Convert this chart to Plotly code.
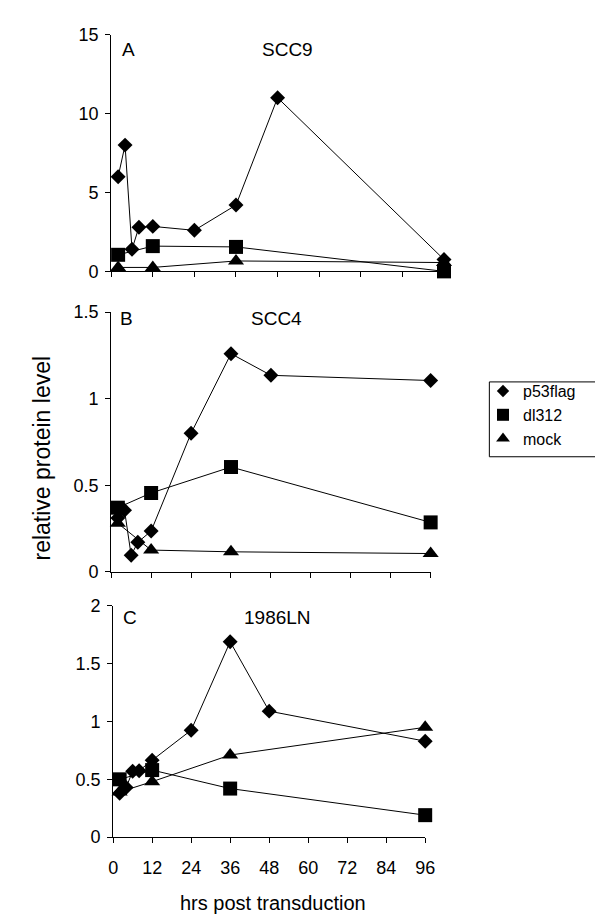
import plotly.graph_objects as go

# ---------------- data ----------------
hours_p53 = [2, 4, 6, 8, 12, 24, 36, 48, 96]
hours_ctrl = [2, 12, 36, 96]

A_p53flag = [6.0, 8.0, 1.4, 2.8, 2.85, 2.6, 4.2, 11.0, 0.75]
A_dl312 = [1.05, 1.6, 1.55, 0.0]
A_mock = [0.25, 0.25, 0.66, 0.56]

B_p53flag = [0.31, 0.355, 0.095, 0.17, 0.235, 0.80, 1.26, 1.135, 1.105]
B_dl312 = [0.37, 0.455, 0.605, 0.285]
B_mock = [0.28, 0.125, 0.115, 0.105]

C_p53flag = [0.38, 0.43, 0.57, 0.575, 0.665, 0.925, 1.69, 1.09, 0.83]
C_dl312 = [0.50, 0.58, 0.42, 0.19]
C_mock = [0.39, 0.48, 0.71, 0.95]

panel_letters = ["A", "B", "C"]
panel_titles = ["SCC9", "SCC4", "1986LN"]
series_names = ["p53flag", "dl312", "mock"]
x_ticks = [0, 12, 24, 36, 48, 60, 72, 84, 96]
y_ranges = [[0, 15], [0, 1.5], [0, 2]]
y_dticks = [5, 0.5, 0.5]

# ---------------- layout helpers ----------------
W, H = 603, 921
FONT = "Liberation Sans, Arial, Helvetica, sans-serif"


def fx(p):
    return p / W


def fy(p):
    return 1 - p / H


# pixel boxes of the three plot areas: (left, right, top, bottom)
boxes = [(100.7, 442.0, 17.0, 259.0),
         (100.7, 428.3, 300.7, 566.0),
         (102.7, 422.7, 601.0, 837.3)]

symbols = ["diamond", "square", "triangle-up"]
sizes = [11.5, 14, 14]

fig = go.Figure()
data = [
    (A_p53flag, A_dl312, A_mock),
    (B_p53flag, B_dl312, B_mock),
    (C_p53flag, C_dl312, C_mock),
]

for i, (p53, dl, mock) in enumerate(data):
    xa = "x" if i == 0 else f"x{i+1}"
    ya = "y" if i == 0 else f"y{i+1}"
    for j, (name, xs, ys) in enumerate([
        (series_names[0], hours_p53, p53),
        (series_names[1], hours_ctrl, dl),
        (series_names[2], hours_ctrl, mock),
    ]):
        fig.add_trace(go.Scatter(
            x=xs, y=ys, name=name, mode="lines+markers",
            xaxis=xa, yaxis=ya, cliponaxis=False,
            line=dict(color="black", width=1),
            marker=dict(symbol=symbols[j], size=sizes[j], color="black",
                        line=dict(width=0)),
            showlegend=False, legendgroup=name,
        ))

# legend entries: markers only (as in the reference legend)
for j, name in enumerate(series_names):
    fig.add_trace(go.Scatter(
        x=[None], y=[None], name=name, mode="markers",
        marker=dict(symbol=symbols[j], size=sizes[j] - 2, color="black",
                    line=dict(width=0)),
        showlegend=True, legendgroup=name,
    ))

layout = dict(
    width=W, height=H,
    margin=dict(l=0, r=0, t=0, b=0),
    paper_bgcolor="white", plot_bgcolor="white",
    font=dict(family=FONT, color="black", size=16),
    showlegend=True,
    legend=dict(x=fx(482), y=fy(364), xanchor="left", yanchor="top",
                bgcolor="rgba(0,0,0,0)", borderwidth=0,
                font=dict(family=FONT, size=16, color="black"),
                tracegroupgap=0, itemwidth=30),
)

for i, (l, r, t, b) in enumerate(boxes):
    xk = "xaxis" if i == 0 else f"xaxis{i+1}"
    yk = "yaxis" if i == 0 else f"yaxis{i+1}"
    ya = "y" if i == 0 else f"y{i+1}"
    xa = "x" if i == 0 else f"x{i+1}"
    layout[xk] = dict(
        domain=[fx(l), fx(r)], anchor=ya, range=[0, 96],
        tickmode="array", tickvals=x_ticks, ticktext=[str(v) for v in x_ticks],
        showticklabels=(i == 2), ticks="outside", ticklen=5,
        tickcolor="black", tickwidth=1, ticklabelstandoff=9,
        showline=True, linecolor="black", linewidth=1,
        showgrid=False, zeroline=False,
        tickfont=dict(family=FONT, size=18, color="black"),
    )
    layout[yk] = dict(
        domain=[fy(b), fy(t)], anchor=xa, range=y_ranges[i],
        dtick=y_dticks[i], tick0=0, ticks="outside", ticklen=5,
        tickcolor="black", tickwidth=1, ticklabelstandoff=3,
        showline=True, linecolor="black", linewidth=1,
        showgrid=False, zeroline=False,
        tickfont=dict(family=FONT, size=18, color="black"),
    )

fig.update_layout(**layout)

# panel letters and cell-line titles
letter_pos = [(118, 31.7), (116.7, 307), (120, 613)]
title_pos = [(281, 31.7), (270, 307), (271.7, 613)]
for i in range(3):
    fig.add_annotation(x=fx(letter_pos[i][0]), y=fy(letter_pos[i][1]),
                       xref="paper", yref="paper", text=panel_letters[i],
                       showarrow=False, xanchor="center", yanchor="middle",
                       font=dict(family=FONT, size=19, color="black"))
    fig.add_annotation(x=fx(title_pos[i][0]), y=fy(title_pos[i][1]),
                       xref="paper", yref="paper", text=panel_titles[i],
                       showarrow=False, xanchor="center", yanchor="middle",
                       font=dict(family=FONT, size=19, color="black"))

# axis titles
fig.add_annotation(x=fx(30), y=fy(450), xref="paper", yref="paper",
                   text="relative protein level", textangle=-90,
                   showarrow=False, xanchor="center", yanchor="middle",
                   font=dict(family=FONT, size=23, color="black"))
fig.add_annotation(x=fx(266.7), y=fy(905), xref="paper", yref="paper",
                   text="hrs post transduction",
                   showarrow=False, xanchor="center", yanchor="middle",
                   font=dict(family=FONT, size=20, color="black"))

# legend frame
fig.add_shape(type="rect", xref="paper", yref="paper",
              x0=fx(488.5), x1=fx(602), y0=fy(448.5), y1=fy(372),
              line=dict(color="black", width=1), fillcolor="rgba(0,0,0,0)")

fig.write_html("out.html")
